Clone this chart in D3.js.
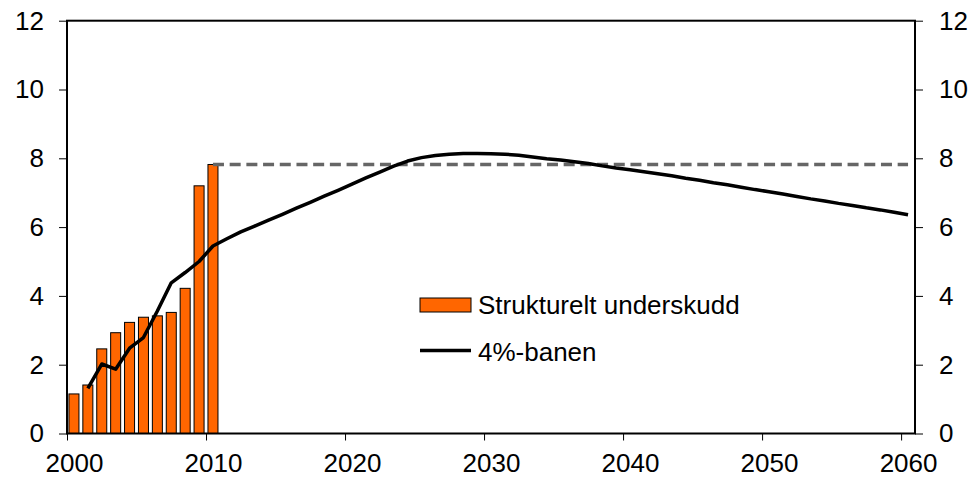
<html>
<head>
<meta charset="utf-8" />
<style>
  html, body { margin: 0; padding: 0; background: #fff; }
  svg { display: block; font-family: Arial, "Liberation Sans", sans-serif; }
</style>
</head>
<body>
<div id="chart"></div>
<script src="https://cdnjs.cloudflare.com/ajax/libs/d3/7.8.5/d3.min.js"></script>
<script>
// structural deficit (bars), 2000-2010
var barYears = d3.range(2000, 2011);
var deficit = [1.15, 1.41, 2.46, 2.93, 3.23, 3.38, 3.42, 3.52, 4.22, 7.2, 7.82];

// 4%-path, 2001-2060
var pathYears = d3.range(2001, 2061);
var pathValues = [1.31, 2.02, 1.87, 2.48, 2.79, 3.56, 4.38, 4.68, 5.0, 5.45,
  5.66, 5.86, 6.03, 6.2, 6.37, 6.55, 6.72, 6.9, 7.07, 7.25,
  7.43, 7.6, 7.77, 7.92, 8.02, 8.08, 8.12, 8.14, 8.14, 8.13,
  8.12, 8.09, 8.04, 7.99, 7.95, 7.9, 7.85, 7.78, 7.72, 7.67,
  7.61, 7.55, 7.49, 7.42, 7.36, 7.29, 7.23, 7.16, 7.09, 7.03,
  6.96, 6.89, 6.82, 6.76, 6.69, 6.63, 6.56, 6.5, 6.43, 6.36];

// flat dashed level from 2010
var levelYears = [2010, 2060];
var levelValues = [7.82, 7.82];

var yTicks = [0, 2, 4, 6, 8, 10, 12];
var xTicks = [2000, 2010, 2020, 2030, 2040, 2050, 2060];
var legendLabels = ["Strukturelt underskudd", "4%-banen"];

var width = 971, height = 478;
var margin = {top: 20.7, left: 67, right: 56, bottom: 44.5};
var fontSize = 26;

var svg = d3.select("#chart").append("svg")
    .attr("width", width).attr("height", height);

var x = d3.scaleLinear().domain([2000, 2061]).range([margin.left, width - margin.right]);
var y = d3.scaleLinear().domain([0, 12]).range([height - margin.bottom, margin.top]);
var cat = x(2001) - x(2000);
var barW = cat * 0.72;

// bars
svg.append("g")
  .selectAll("rect")
  .data(barYears)
  .enter().append("rect")
    .attr("x", function(d) { return x(d + 0.5) - barW / 2; })
    .attr("y", function(d, i) { return y(deficit[i]); })
    .attr("width", barW)
    .attr("height", function(d, i) { return y(0) - y(deficit[i]); })
    .attr("fill", "#ff6600")
    .attr("stroke", "#000")
    .attr("stroke-width", 1);

var line = d3.line()
  .x(function(d) { return x(d[0] + 0.5); })
  .y(function(d) { return y(d[1]); });

svg.append("path")
  .datum(d3.zip(levelYears, levelValues))
  .attr("d", line)
  .attr("fill", "none")
  .attr("stroke", "#666")
  .attr("stroke-width", 3.5)
  .attr("stroke-dasharray", "11,5.7");

svg.append("path")
  .datum(d3.zip(pathYears, pathValues))
  .attr("d", line)
  .attr("fill", "none")
  .attr("stroke", "#000")
  .attr("stroke-width", 3.5)
  .attr("stroke-linejoin", "round");

// axes
var left = svg.append("g")
  .attr("transform", "translate(" + x(2000) + ",0)")
  .call(d3.axisLeft(y).tickValues(yTicks).tickSize(8).tickPadding(15));
var right = svg.append("g")
  .attr("transform", "translate(" + x(2061) + ",0)")
  .call(d3.axisRight(y).tickValues(yTicks).tickSize(8).tickPadding(16));
var bottom = svg.append("g")
  .attr("transform", "translate(0," + y(0) + ")")
  .call(d3.axisBottom(x).tickValues(xTicks).tickFormat(d3.format("d")).tickSize(7).tickPadding(13));
bottom.selectAll("text").attr("dx", cat / 2);

[left, right, bottom].forEach(function(g) {
  g.select(".domain").remove();
  g.selectAll("line").attr("stroke", "#000").attr("stroke-width", 1);
  g.selectAll("text").attr("font-size", fontSize).attr("fill", "#000")
    .attr("font-family", "Arial, 'Liberation Sans', sans-serif");
});

// plot frame
svg.append("rect")
  .attr("x", x(2000)).attr("y", y(12))
  .attr("width", x(2061) - x(2000)).attr("height", y(0) - y(12))
  .attr("fill", "none").attr("stroke", "#000").attr("stroke-width", 2);

// legend
var lg = svg.append("g").attr("transform", "translate(420,0)");
lg.append("rect").attr("x", 0).attr("y", 298).attr("width", 51).attr("height", 14)
  .attr("fill", "#ff6600").attr("stroke", "#000").attr("stroke-width", 1);
lg.append("line").attr("x1", 0).attr("x2", 51).attr("y1", 350.5).attr("y2", 350.5)
  .attr("stroke", "#000").attr("stroke-width", 3.5);
lg.selectAll("text")
  .data(legendLabels)
  .enter().append("text")
    .attr("x", 58)
    .attr("y", function(d, i) { return 314 + i * 47; })
    .attr("font-size", fontSize)
    .text(function(d) { return d; });
</script>
</body>
</html>
